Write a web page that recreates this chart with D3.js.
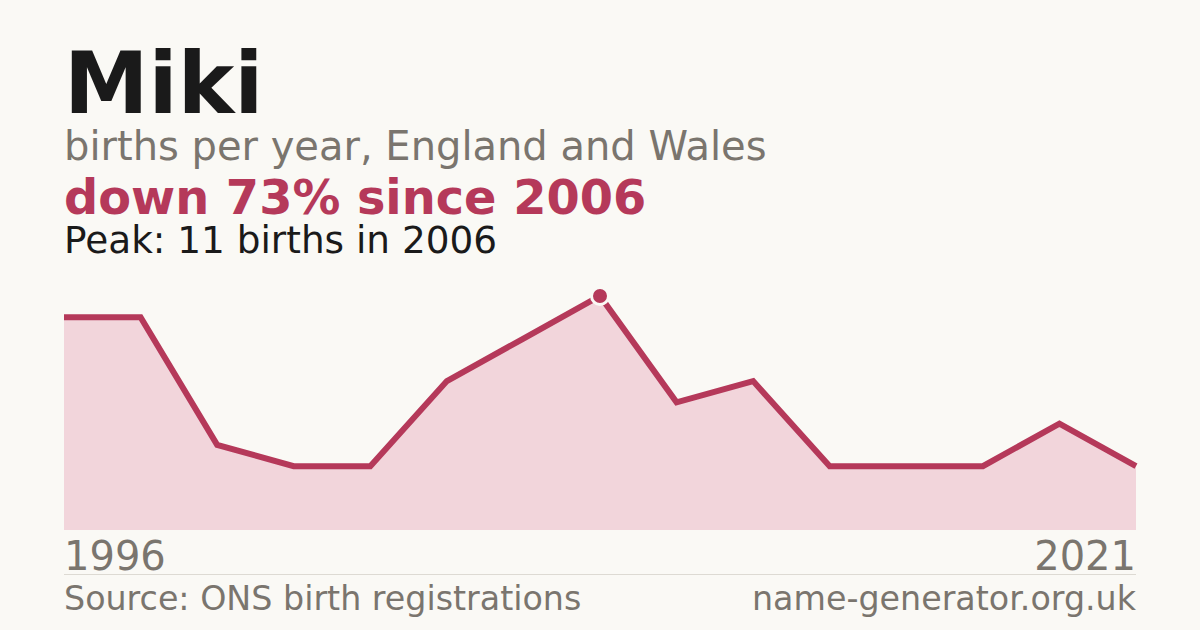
<!DOCTYPE html>
<html>
<head>
<meta charset="utf-8" />
<title>Miki</title>
<script src="https://cdn.jsdelivr.net/npm/d3@7/dist/d3.min.js"></script>
<style>
html,body{margin:0;padding:0;background:#faf9f5;}
svg{display:block;}
text{font-family:"DejaVu Sans",sans-serif;}
</style>
</head>
<body>
<svg id="chart" width="1200" height="630"></svg>
<script>
// years shown on the x axis (only years with registered births)
var years = [1996,1997,1999,2000,2001,2003,2004,2006,2008,2009,2012,2014,2016,2019,2021];
// births per year
var births = [10,10,4,3,3,7,9,11,6,7,3,3,3,5,3];
var peakYear = 2006;

var W = 1200, H = 630;
var mLeft = 64, mRight = 1136, mTop = 296, mBottom = 530;
var red = "#b5395a", pink = "#f2d5db", grey = "#7a756e";

var svg = d3.select("#chart");
svg.append("rect").attr("width",W).attr("height",H).attr("fill","#faf9f5");

var x = d3.scalePoint().domain(years).range([mLeft,mRight]);
var y = d3.scaleLinear().domain([0,d3.max(births)]).range([mBottom,mTop]);

var rows = years.map(function(d,i){ return {year:d, n:births[i]}; });

// titles
svg.append("text").attr("x",64).attr("y",113)
	.style("font-size","85px").style("font-weight","bold").attr("fill","#1a1a1a")
	.text("Miki");
svg.append("text").attr("x",64).attr("y",160)
	.style("font-size","40px").attr("fill",grey)
	.text("births per year, England and Wales");
var peak = rows[years.indexOf(peakYear)];
var last = rows[rows.length-1];
var pct = Math.round((1-last.n/peak.n)*100);
svg.append("text").attr("x",64).attr("y",214)
	.style("font-size","47.8px").style("font-weight","bold").attr("fill",red)
	.text("down "+pct+"% since "+peakYear);
svg.append("text").attr("x",64).attr("y",253)
	.style("font-size","37.4px").attr("fill","#1a1a1a")
	.text("Peak: "+peak.n+" births in "+peakYear);

// area + line
var area = d3.area().x(function(d){return x(d.year);}).y0(y(0)).y1(function(d){return y(d.n);});
var line = d3.line().x(function(d){return x(d.year);}).y(function(d){return y(d.n);});
svg.append("path").datum(rows).attr("d",area).attr("fill",pink);
svg.append("path").datum(rows).attr("d",line)
	.attr("fill","none").attr("stroke",red).attr("stroke-width",6).attr("stroke-linejoin","miter");

// peak marker
svg.append("circle").attr("cx",x(peak.year)).attr("cy",y(peak.n)).attr("r",8.5)
	.attr("fill",red).attr("stroke","#faf9f5").attr("stroke-width",3);

// year labels
svg.append("text").attr("x",mLeft).attr("y",570)
	.style("font-size","40px").attr("fill",grey).text(years[0]);
svg.append("text").attr("x",mRight).attr("y",570).attr("text-anchor","end")
	.style("font-size","40px").attr("fill",grey).text(years[years.length-1]);

// rule + footer
svg.append("line").attr("x1",mLeft).attr("x2",mRight).attr("y1",574.5).attr("y2",574.5)
	.attr("stroke","#dddad3").attr("stroke-width",1);
svg.append("text").attr("x",mLeft).attr("y",610)
	.style("font-size","33.3px").attr("fill",grey).text("Source: ONS birth registrations");
svg.append("text").attr("x",mRight).attr("y",610).attr("text-anchor","end")
	.style("font-size","33.3px").attr("fill",grey).text("name-generator.org.uk");
</script>
</body>
</html>
